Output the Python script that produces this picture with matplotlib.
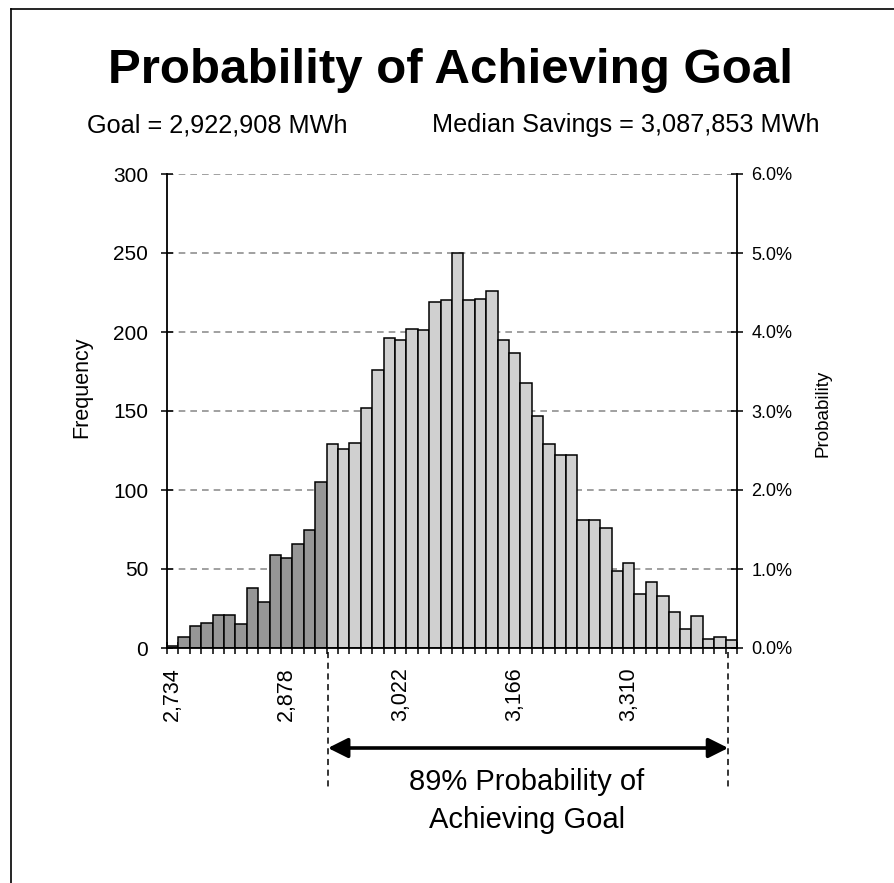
# Histogram of simulated savings with goal marker (Excel-style chart)
import numpy as np
import matplotlib.pyplot as plt
from matplotlib.lines import Line2D
from matplotlib.transforms import blended_transform_factory

plt.rcParams['font.family'] = ['Liberation Sans', 'DejaVu Sans']

# bin upper bounds, thousands of MWh
first_bin = 2734
bin_w = 14.4
counts = [1, 7, 14, 16, 21, 21, 15, 38, 29, 59, 57, 66, 75, 105, 129, 126, 130, 152,
          176, 196, 195, 202, 201, 219, 220, 250, 220, 221, 226, 195, 187, 168, 147,
          129, 122, 122, 81, 81, 76, 49, 54, 34, 42, 33, 23, 12, 20, 6, 7, 5]
tick_every = 10
goal = 2922.908
max_val = 3428.5
total = 5000
title = "Probability of Achieving Goal"
sub_left = "Goal = 2,922,908 MWh"
sub_right = "Median Savings = 3,087,853 MWh"
note = "89% Probability of\nAchieving Goal"

n = len(counts)
idx = np.arange(n)
upper = first_bin + bin_w * idx
colors = ['#969696' if u < goal else '#d0d0d0' for u in upper]

W, H = 895, 883
fig = plt.figure(figsize=(W / 100, H / 100), dpi=100)
ax = fig.add_axes([167 / W, 1 - 648 / H, 570 / W, 474 / H])

ax.bar(idx, counts, width=1.0, color=colors, edgecolor='black', linewidth=1.1, zorder=2)
ax.set_xlim(-0.5, n - 0.5)
ax.set_ylim(0, 300)
ax.set_yticks(np.arange(0, 301, 50))
ax.yaxis.grid(True, ls=(0, (4, 3)), color='#909090', lw=1.2)
ax.set_axisbelow(True)

lab_pos = idx[::tick_every]
ax.set_xticks(lab_pos)
ax.set_xticklabels([f"{int(round(upper[i])):,}" for i in lab_pos], rotation=90, fontsize=15.5)
ax.set_xticks(np.arange(-0.5, n, 1.0), minor=True)
ax.tick_params(axis='x', which='major', length=0, pad=14)
ax.tick_params(axis='x', which='minor', direction='inout', length=8, width=1.1)
ax.tick_params(axis='y', direction='inout', length=9, width=1.1, labelsize=15, pad=9)
ax.spines['top'].set_visible(False)
ax.spines['right'].set_visible(False)
for s in ['left', 'bottom']:
    ax.spines[s].set_linewidth(1.3)

ax2 = ax.twinx()
ax2.set_ylim(0, 300 / total)
pct = np.arange(0, 0.061, 0.01)
ax2.set_yticks(pct)
ax2.set_yticklabels([f"{p * 100:.1f}%" for p in pct])
ax2.tick_params(axis='y', direction='inout', length=9, width=1.1, labelsize=13, pad=6)
for s in ['top', 'left', 'bottom']:
    ax2.spines[s].set_visible(False)
ax2.spines['right'].set_linewidth(1.3)

# texts
fig.text(451 / W, 1 - 83 / H, title, ha='center', va='baseline', fontsize=35.5, fontweight='bold')
fig.text(87 / W, 1 - 132 / H, sub_left, ha='left', va='baseline', fontsize=18.2)
fig.text(432 / W, 1 - 132 / H, sub_right, ha='left', va='baseline', fontsize=18.2)
fig.text(82 / W, 1 - 387 / H, "Frequency", rotation=90, ha='center', va='center', fontsize=15.5)
fig.text(823 / W, 1 - 413 / H, "Probability", rotation=90, ha='center', va='center', fontsize=13.5)
fig.text(527 / W, 1 - 828 / H, note, ha='center', va='baseline', fontsize=21,
         linespacing=1.45)

# goal range markers below the axis
to_pos = lambda v: (v - first_bin) / bin_w + 0.5
bt = blended_transform_factory(ax.transData, fig.transFigure)
for v in [goal, max_val]:
    fig.add_artist(Line2D([to_pos(v)] * 2, [1 - 652 / H, 1 - 790 / H], transform=bt,
                          color='black', lw=1.1, ls=(0, (4, 3))))
ax.annotate('', xy=(to_pos(goal), 1 - 748 / H), xytext=(to_pos(max_val), 1 - 748 / H),
            xycoords=('data', 'figure fraction'), textcoords=('data', 'figure fraction'),
            arrowprops=dict(arrowstyle='<|-|>', lw=2.6, color='black', mutation_scale=30,
                            shrinkA=0, shrinkB=0))

# chart frame
fig.add_artist(Line2D([11 / W, 11 / W], [0, 1 - 9 / H], color='black', lw=1.2))
fig.add_artist(Line2D([11 / W, 1], [1 - 9 / H, 1 - 9 / H], color='black', lw=1.2))

fig.savefig("out.png", dpi=100)
